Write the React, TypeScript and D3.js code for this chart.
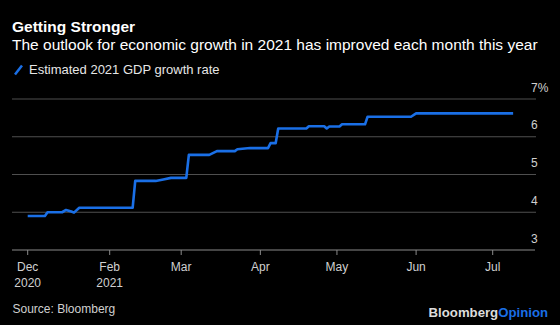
import React from "react";
import * as d3 from "d3";

const dates = [
  "2020-12-01", "2020-12-14", "2020-12-16", "2020-12-27", "2020-12-30", "2021-01-03",
  "2021-01-05", "2021-01-09", "2021-02-10", "2021-02-11", "2021-02-19", "2021-02-22",
  "2021-02-25", "2021-03-03", "2021-03-04", "2021-03-12", "2021-03-15", "2021-03-22",
  "2021-03-23", "2021-03-28", "2021-04-04", "2021-04-05", "2021-04-07", "2021-04-08",
  "2021-04-19", "2021-04-20", "2021-04-26", "2021-04-27", "2021-04-28", "2021-05-02",
  "2021-05-03", "2021-05-12", "2021-05-13", "2021-05-30", "2021-06-01", "2021-07-09",
];
const gdpGrowth = [
  3.9, 3.9, 4.0, 4.0, 4.06, 4.02,
  3.99, 4.12, 4.12, 4.83, 4.83, 4.87,
  4.91, 4.91, 5.52, 5.52, 5.62, 5.62,
  5.67, 5.7, 5.7, 5.83, 5.83, 6.22,
  6.22, 6.28, 6.28, 6.22, 6.27, 6.27,
  6.33, 6.33, 6.53, 6.53, 6.62, 6.62,
];
const xTickDates = ["2020-12-01", "2021-02-01", "2021-03-01", "2021-04-01", "2021-05-01", "2021-06-01", "2021-07-01"];
const xTickLabels = [["Dec", "2020"], ["Feb", "2021"], ["Mar"], ["Apr"], ["May"], ["Jun"], ["Jul"]];
const yTicks = [3, 4, 5, 6, 7];
const yTickLabels = ["3", "4", "5", "6", "7%"];

const title = "Getting Stronger";
const subtitle = "The outlook for economic growth in 2021 has improved each month this year";
const legendLabel = "Estimated 2021 GDP growth rate";
const source = "Source: Bloomberg";

const W = 560;
const H = 325;
const FONT = "'Liberation Sans', Arial, Helvetica, sans-serif";
const BLUE = "#1a6fe6";

const parse = d3.utcParse("%Y-%m-%d");

export default function App() {
  const x = d3
    .scaleUtc()
    .domain([parse("2020-12-01")!, parse("2021-02-01")!, parse("2021-07-01")!])
    .range([27.7, 109.7, 492.7]);
  const y = d3.scaleLinear().domain([3, 7]).range([250, 99]);

  const data = dates.map((d, i) => ({ date: parse(d)!, v: gdpGrowth[i] }));
  const line = d3
    .line<{ date: Date; v: number }>()
    .x((d) => x(d.date))
    .y((d) => y(d.v));

  const gridX0 = 12;
  const gridX1 = 536;

  return (
    <svg
      width={W}
      height={H}
      style={{ position: "fixed", left: 0, top: 0, background: "#000", display: "block" }}
      fontFamily={FONT}
    >
      <rect x={0} y={0} width={W} height={H} fill="#000" />
      <text x={12} y={32} fill="#fff" fontSize={15.5} fontWeight="bold">
        {title}
      </text>
      <text x={12} y={50} fill="#fff" fontSize={15.5}>
        {subtitle}
      </text>
      <line x1={15} y1={74.5} x2={22} y2={65.5} stroke={BLUE} strokeWidth={2.5} />
      <text x={29} y={74} fill="#e6e6e6" fontSize={13}>
        {legendLabel}
      </text>

      {yTicks.map((t, i) => (
        <g key={t}>
          {t !== 3 && (
            <line x1={gridX0} x2={gridX1} y1={y(t)} y2={y(t)} stroke="#4f4f4f" strokeWidth={1.2} />
          )}
          <text x={531} y={y(t) - 7.5} fill="#d0d0d0" fontSize={12}>
            {yTickLabels[i]}
          </text>
        </g>
      ))}

      <line x1={gridX0} x2={535} y1={y(3)} y2={y(3)} stroke="#8a8a8a" strokeWidth={1.2} />
      {xTickDates.map((d, i) => {
        const xx = x(parse(d)!);
        return (
          <g key={d}>
            <line x1={xx} x2={xx} y1={y(3)} y2={y(3) + 5} stroke="#8a8a8a" strokeWidth={1} />
            {xTickLabels[i].map((lab, j) => (
              <text key={j} x={xx} y={270.7 + j * 16} fill="#d0d0d0" fontSize={12} textAnchor="middle">
                {lab}
              </text>
            ))}
          </g>
        );
      })}

      <path d={line(data) || ""} fill="none" stroke={BLUE} strokeWidth={2.6} strokeLinejoin="round" />

      <text x={12.5} y={312.7} fill="#d0d0d0" fontSize={12}>
        {source}
      </text>
      <text x={548} y={316.7} fontSize={13.2} fontWeight="bold" textAnchor="end">
        <tspan fill="#dcdcdc">Bloomberg</tspan>
        <tspan fill={BLUE}>Opinion</tspan>
      </text>
    </svg>
  );
}
